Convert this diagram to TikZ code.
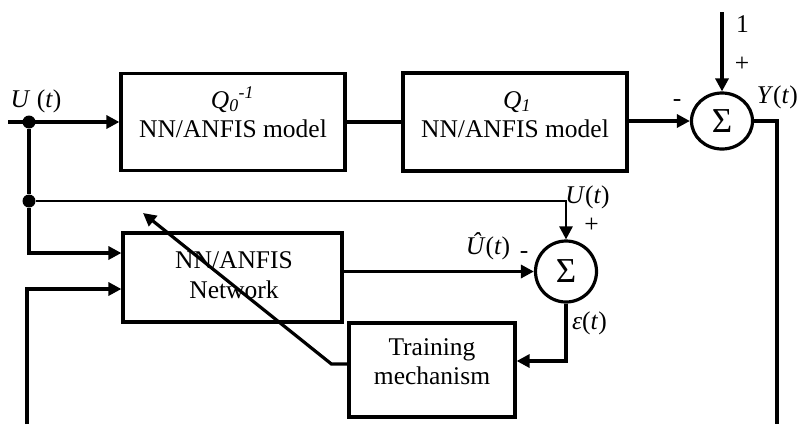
\documentclass[tikz,border=0pt]{standalone}
\usepackage{fontspec}
\setmainfont{Liberation Serif}
\usetikzlibrary{arrows.meta,calc,shapes.geometric}
\begin{document}
\begin{tikzpicture}[x=1pt,y=-1pt,
  every node/.style={font=\fontsize{25.5}{30}\selectfont},
  ln/.style={line width=3.2pt},
  arr/.style={ln,-{Triangle[length=13pt,width=13pt]}},
  box/.style={draw,line width=3.2pt,inner sep=0pt},
  sumnode/.style={draw,line width=3.2pt,inner sep=0pt,font=\fontsize{35}{35}\selectfont},
  dot/.style={circle,fill,inner sep=0pt,minimum size=13pt},
  lbl/.style={inner sep=0pt}
]
\useasboundingbox (0,0) rectangle (799,424);

% blocks
\node[box,minimum width=224pt,minimum height=97pt] (m0) at (233,122) {};
\node[box,minimum width=224pt,minimum height=98pt] (m1) at (515,122) {};
\node[box,minimum width=219pt,minimum height=89pt] (nn) at (232.5,277.5) {};
\node[box,minimum width=166pt,minimum height=94pt] (tr) at (432,370) {};
\node[sumnode,ellipse,minimum width=61pt,minimum height=56pt] (sum1) at (722,121) {Σ};
\node[sumnode,circle,minimum size=61pt] (sum2) at (566,271.5) {Σ};

% junctions and free ends
\node[dot] (d1) at (29,122) {};
\node[dot] (d2) at (29,201) {};
\coordinate (uin) at (8,122);
\coordinate (top1) at (722,12);
\coordinate (yout) at (777,424);
\coordinate (bl) at (27,424);
\coordinate (tip) at (143,213);

% connectors
\draw[arr] (uin) -- (m0.west);
\draw[ln] (d1) -- (d2);
\draw[ln] (m0.east) -- (m1.west);
\draw[arr] (m1.east |- sum1.west) -- (sum1.west);
\draw[arr] (top1) -- (sum1.north);
\draw[ln] (sum1.east) -| (yout);
\draw[arr,line width=2.7pt] (d2) -| (sum2.north);
\draw[arr] (d2) |- ($(nn.west)+(0,-24.5)$);
\draw[arr] (bl) |- ($(nn.west)+(0,11.5)$);
\draw[arr] (nn.east |- sum2.west) -- (sum2.west);
\draw[arr] (sum2.south) |- ($(tr.east)+(0,-9)$);
\draw[arr] ($(tr.west)+(0,-6)$) -- ++(-16,0) -- (tip);

% block texts
\node[lbl,anchor=base] (q0) at (232.5,108) {\textit{Q}\textsubscript{\textit{0}}\textsuperscript{\textit{-1}}};
\node[lbl,anchor=base] (m0a) at (233,137) {NN/ANFIS model};
\node[lbl,anchor=base] (q1) at (517,108) {\textit{Q}\textsubscript{\textit{1}}};
\node[lbl,anchor=base] (m1a) at (515,137) {NN/ANFIS model};
\node[lbl,anchor=base] (nna) at (234,268) {NN/ANFIS};
\node[lbl,anchor=base] (nnb) at (234,298) {Network};
\node[lbl,anchor=base] (tra) at (432,355) {Training};
\node[lbl,anchor=base] (trb) at (432,384) {mechanism};

% signal labels
\node[lbl] (lu) at (36,101.5) {\textit{U} (\textit{t})};
\node[lbl] (lm1) at (677,103) {-};
\node[lbl] (l1) at (742.5,24) {1};
\node[lbl] (lp1) at (742,64) {+};
\node[lbl,anchor=east] (ly) at (798,97.5) {\textit{Y}(\textit{t})};
\node[lbl] (lu2) at (587.5,197.5) {\textit{U}(\textit{t})};
\node[lbl] (lp2) at (591.5,225) {+};
\node[lbl] (luh) at (488,246.5) {\textit{Û}(\textit{t})};
\node[lbl] (lm2) at (524,255.5) {-};
\node[lbl] (le) at (589.5,323) {\textit{ε}(\textit{t})};
\end{tikzpicture}
\end{document}
